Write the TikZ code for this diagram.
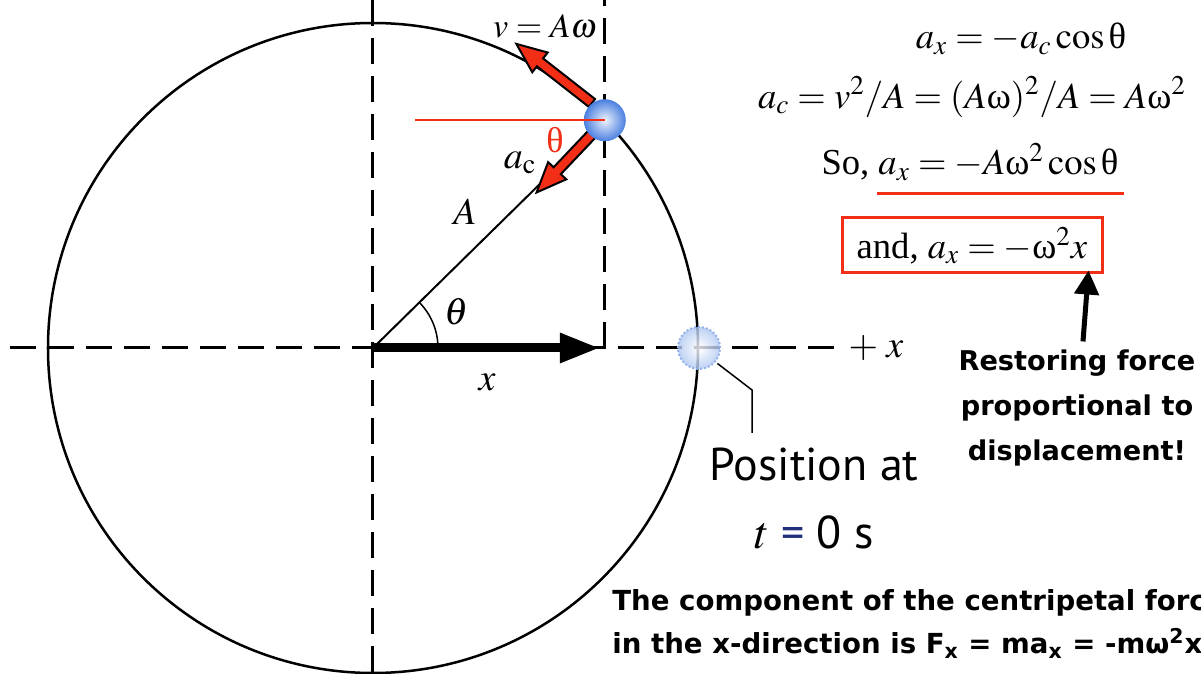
\documentclass[tikz,border=0pt]{standalone}
\usepackage{amsmath}
\usepackage{mathptmx}
\usepackage{fontspec}
\setmainfont{Liberation Serif}
\newfontfamily\notefont{DejaVu Sans}
\newfontfamily\labelfont{PT Sans}
\usetikzlibrary{arrows.meta,calc,positioning}
\definecolor{Hilite}{HTML}{F22E17}
\definecolor{Marble}{HTML}{4A7FE0}
\definecolor{Navy}{HTML}{22307A}
\newcommand{\uth}{\text{θ}}
\newcommand{\uom}{\text{ω}}
% fat red force arrow: start, direction, length (in px units)
\newcommand{\forcearrow}[3]{%
  \begin{scope}[shift={#1}, rotate=#2]
    \draw[forcearrow] (0,-5) -- ({#3-30},-5) -- ({#3-30},-12.5) -- (#3,0)
      -- ({#3-30},12.5) -- ({#3-30},5) -- (0,5) -- cycle;
  \end{scope}}

\begin{document}
\begin{tikzpicture}[x=0.5pt, y=0.5pt, >=Latex,
    axis/.style={line width=1.5pt, dash pattern=on 13pt off 6pt},
    ring/.style={line width=1.25pt},
    forcearrow/.style={draw=black, fill=Hilite, line width=1pt, line join=miter},
    book/.style={font=\fontsize{19}{19}\selectfont, inner sep=1pt},
    eqn/.style={font=\fontsize{18.3}{18.3}\selectfont, inner sep=2pt},
    note/.style={font=\notefont\bfseries\fontsize{13.6}{22.5}\selectfont, align=center, inner sep=0pt},
    pointer/.style={-{Triangle[length=12pt,width=12pt]}, line width=2.5pt},
  ]
  \useasboundingbox (-373,-326) rectangle (828,348);
  \coordinate (O) at (0,0);
  \coordinate (P) at (44.5:325);
  \coordinate (Q) at (326,0);
  \coordinate (X) at (P |- O);

  \draw[ring] (O) circle[radius=325];
  \draw[axis] (0,348) -- (0,-326);
  \draw[axis] (X) -- ($(P)+(0,125)$);
  \draw[axis] (-363,0) -- (472,0) node[right, book] (plusx) {$+\;x$};

  \draw[line width=1pt] (O) -- (P);
  \draw[line width=1pt] (O) -- (X);
  \draw[line width=0.75pt] (65,0) arc[start angle=0, end angle=44.5, radius=65];
  \draw[-{Triangle[length=20pt,width=14pt]}, line width=4.5pt] (O) -- ($(X)+(-5,0)$);
  \node[book] (theta) at (84,36) {$\theta$};
  \node[book] (xlab) at (114,-34) {$x$};
  \node[book] (alab) at (92,136) {$A$};

  \forcearrow{(219,245)}{142}{96}
  \forcearrow{(220,215)}{226.5}{82}
  \shade[inner color=Marble!10, outer color=Marble] (P) circle[radius=21];
  \shade[inner color=white, outer color=Marble!45, opacity=0.8] (Q) circle[radius=21];
  \draw[Marble!60, densely dotted, line width=1pt] (Q) circle[radius=21];
  \draw[Hilite, line width=1.25pt] ($(P)+(-190,0)$) -- (P);
  \node[Hilite, font=\fontsize{18}{18}\selectfont] (thred) at (182,208) {θ};
  \node[book] (aclab) at (147,185) {$a_{\mathrm{c}}$};
  \node[book, font=\fontsize{17}{17}\selectfont] (vlab) at (172,322) {$v = A\omega$};

  \draw[line width=0.75pt] ($(Q)+(-40:24)$) -- (379,-42) -- (379,-85);
  \node[font=\labelfont\fontsize{23}{34}\selectfont, align=center] (pos) at (441,-150)
    {Position at\\$t$ \textcolor{Navy}{=} 0 s};

  \node[eqn] (e1) at (648,309) {$a_x = -a_c \cos\uth$};
  \node[eqn] (e2) at (599,251) {$a_c = v^2/A = (A\uom)^2/A = A\uom^2$};
  \node[eqn] (e3) at (597,186) {So, $a_x = -A\uom^2\cos\uth$};
  \draw[Hilite, line width=1.5pt] (504,154) -- (751,154);
  \node[eqn, draw=Hilite, line width=1.5pt, minimum width=130pt, minimum height=27.5pt] (e4)
    at (599,102.5) {and, $a_x = -\uom^2 x$};

  \node[note] (note) at (704,-60) {Restoring force\\proportional to\\displacement!};
  \draw[pointer] ([xshift=3pt,yshift=4pt]note.north) -- ([xshift=-7.5pt,yshift=2pt]e4.south east);

  \node[note, align=left, anchor=west, font=\notefont\bfseries\fontsize{13.8}{21.5}\selectfont] (comp)
    at (239,-276) {The component of the centripetal force\\
    in the x-direction is F\textsubscript{x} = ma\textsubscript{x} = -mω\textsuperscript{2}x};
\end{tikzpicture}
\end{document}
